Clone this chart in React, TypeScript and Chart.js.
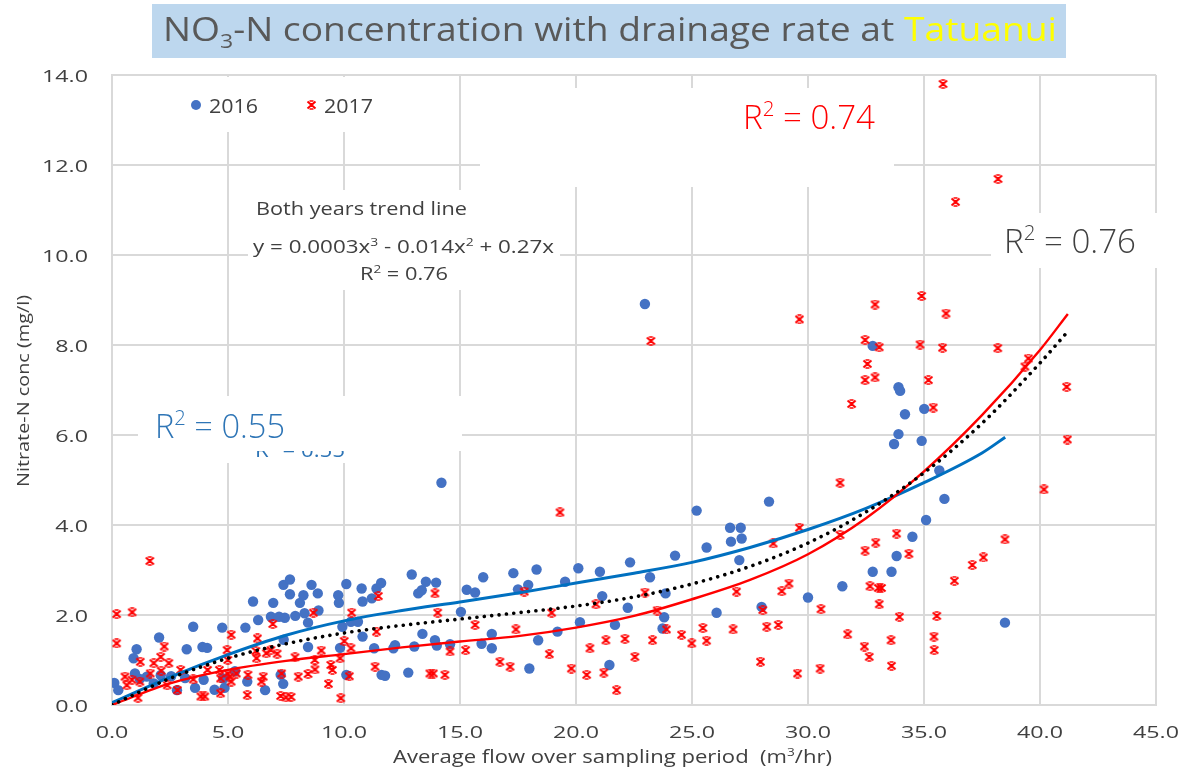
import React, { useEffect, useRef } from "react";
import { Chart, registerables } from "chart.js";
Chart.register(...registerables);

// ---------- DATA ----------
const xTickLabels = ["0.0", "5.0", "10.0", "15.0", "20.0", "25.0", "30.0", "35.0", "40.0", "45.0"];
const yTickLabels = ["0.0", "2.0", "4.0", "6.0", "8.0", "10.0", "12.0", "14.0"];

const flow2016 = [
  0.1, 0.27, 0.93, 1.06, 0.99, 1.2, 1.5, 2.03, 2.1, 1.8, 2.55, 2.8, 3.22, 3.5, 3.58, 3.15, 3.9, 4.1, 3.95, 4.42,
  4.75, 4.85, 4.8, 5.3, 5.75, 5.83, 6.08, 6.3, 6.6, 6.85, 6.95, 7.2, 7.39, 7.67, 7.67, 7.38, 7.27, 7.4, 7.45, 7.9,
  8.1, 8.25, 8.3, 8.45, 8.45, 8.6, 8.87, 8.9, 9.75, 9.78, 9.83, 9.93, 10.1, 10.1, 10.3, 10.6, 10.76, 10.8, 10.8, 11.2,
  11.3, 11.4, 11.6, 11.62, 11.77, 12.13, 12.2, 12.77, 12.92, 13.03, 13.2, 13.35, 13.38, 13.53, 13.92, 13.97, 14.0, 14.2, 14.57, 15.04,
  15.29, 15.65, 15.93, 16.0, 16.37, 16.37, 17.3, 17.5, 17.94, 17.99, 18.3, 18.37, 19.2, 19.53, 20.1, 20.17, 21.03, 21.13, 21.44, 21.68,
  22.23, 22.33, 22.97, 23.19, 23.73, 23.8, 23.86, 24.27, 25.2, 25.63, 26.06, 26.64, 26.68, 27.04, 27.1, 27.14, 28.0, 28.32, 30.0, 31.48,
  32.79, 32.79, 33.6, 33.71, 33.82, 33.9, 33.9, 33.97, 34.18, 34.5, 34.9, 35.01, 35.09, 35.66, 35.88, 38.49,
];
const nitrate2016 = [
  0.49, 0.33, 1.04, 1.24, 0.7, 0.58, 0.63, 1.5, 0.66, 0.48, 0.64, 0.33, 1.24, 1.74, 0.38, 0.6, 1.29, 1.27, 0.56, 0.34,
  1.72, 0.38, 0.59, 0.75, 1.72, 0.52, 2.3, 1.89, 0.33, 1.96, 2.27, 1.96, 2.67, 2.79, 2.46, 0.47, 0.67, 1.45, 1.94, 1.98,
  2.27, 2.44, 2.04, 1.83, 1.29, 2.67, 2.48, 2.1, 2.44, 2.27, 1.27, 1.74, 2.69, 0.67, 1.85, 1.85, 2.59, 2.3, 1.52, 2.37,
  1.26, 2.59, 2.71, 0.67, 0.65, 1.26, 1.33, 0.72, 2.9, 1.3, 2.48, 2.55, 1.58, 2.74, 1.44, 2.72, 1.32, 4.94, 1.35, 2.07,
  2.56, 2.5, 1.36, 2.84, 1.58, 1.26, 2.93, 2.57, 2.67, 0.81, 3.01, 1.44, 1.63, 2.74, 3.04, 1.84, 2.96, 2.42, 0.89, 1.78,
  2.16, 3.17, 8.91, 2.84, 1.7, 1.95, 2.48, 3.32, 4.32, 3.5, 2.05, 3.94, 3.63, 3.22, 3.94, 3.7, 2.18, 4.52, 2.39, 2.64,
  2.96, 7.98, 2.96, 5.8, 3.31, 6.02, 7.06, 6.98, 6.46, 3.74, 5.87, 6.58, 4.11, 5.21, 4.58, 1.83,
];

const flow2017 = [
  0.2, 0.87, 0.2, 1.63, 0.56, 0.64, 0.86, 1.2, 1.12, 1.22, 1.8, 2.1, 2.25, 2.12, 2.45, 1.65, 2.38, 2.82, 2.96, 3.5,
  3.83, 4.0, 4.12, 4.63, 4.68, 4.68, 4.96, 5.14, 4.99, 4.99, 5.07, 5.14, 5.36, 5.86, 5.83, 6.27, 6.23, 6.2,
  6.44, 6.52, 6.65, 6.85, 6.93, 7.12, 7.31, 7.27, 7.5, 7.72, 7.89, 8.03, 8.45, 8.68, 8.74, 8.75, 9.02, 9.33, 9.43, 9.5,
  9.83, 9.86, 10.01, 10.23, 10.3, 10.33, 11.34, 11.4, 11.48,
  13.7, 13.85, 13.92, 14.04, 14.35, 14.57, 15.24, 15.65, 16.72, 17.16, 17.41, 17.77, 18.85, 18.95, 19.31, 19.8,
  20.46, 20.6, 20.86, 21.2, 21.29, 21.75, 22.11, 22.54, 22.97, 23.23, 23.3, 23.5, 23.9, 24.55, 24.99, 25.47, 25.63, 26.77, 26.92, 27.95,
  28.05, 28.22, 28.5, 28.72, 28.87, 29.18, 29.55, 29.63, 29.63, 30.52, 30.56, 31.38, 31.38, 31.71, 31.88, 32.43, 32.46, 32.46, 32.46, 32.56,
  32.64, 32.67, 32.89, 32.89, 32.92, 33.03, 33.17, 33.07, 33.07, 33.58, 33.6, 33.82, 33.94, 34.35, 34.83, 34.9, 35.19, 35.4, 35.43, 35.44,
  35.55, 35.8, 35.82, 35.95, 36.31, 36.36, 37.08, 37.56, 38.18, 38.19, 38.49, 39.35, 39.5, 40.17, 41.15, 41.18,
];
const nitrate2017 = [
  2.02, 2.06, 1.37, 3.2, 0.63, 0.44, 0.56, 0.52, 0.16, 0.96, 0.93, 1.07, 1.3, 0.76, 0.93, 0.7, 0.44, 0.33, 0.78, 0.57,
  0.19, 0.19, 0.78, 0.78, 0.26, 0.59, 1.22, 1.56, 1.0, 0.7, 0.63, 0.52, 0.7, 0.67, 0.22, 1.48, 1.04, 1.2,
  0.52, 0.63, 1.15, 1.22, 1.8, 1.14, 0.7, 0.2, 0.17, 0.18, 1.06, 0.63, 0.69, 2.05, 1.0, 0.79, 1.21, 0.47, 0.89, 0.78,
  1.04, 0.15, 1.42, 0.64, 1.26, 2.05, 0.85, 1.63, 2.42,
  0.7, 0.7, 2.48, 2.05, 0.67, 1.19, 1.22, 1.78, 0.96, 0.85, 1.68, 2.52, 1.13, 2.05, 4.28, 0.81,
  0.67, 1.26, 2.24, 0.72, 1.44, 0.33, 1.47, 1.07, 2.5, 8.09, 1.44, 2.1, 1.68, 1.56, 1.37, 1.71, 1.43, 1.68, 2.52, 0.96,
  2.11, 1.74, 3.59, 1.78, 2.53, 2.7, 0.7, 3.94, 8.57, 0.81, 2.13, 4.94, 3.78, 1.57, 6.69, 1.3, 3.43, 7.22, 8.11, 7.58,
  1.07, 2.64, 7.28, 8.9, 3.61, 2.6, 2.6, 2.24, 7.95, 1.44, 0.87, 3.81, 1.96, 3.36, 8.01, 9.09, 7.22, 6.61, 1.52, 1.22,
  1.98, 7.94, 13.8, 8.7, 2.76, 11.18, 3.11, 3.28, 7.93, 11.69, 3.68, 7.52, 7.7, 4.79, 7.07, 5.9,
];

// trend lines
const trendFlow = [0, 2.5, 5, 7.5, 10, 12.5, 15, 17.5, 20, 22.5, 25, 27.5, 30, 32.5, 35, 37.5, 40, 41.2];
const trendBoth = [0, 0.59, 1.04, 1.36, 1.6, 1.77, 1.91, 2.05, 2.2, 2.4, 2.69, 3.08, 3.6, 4.29, 5.16, 6.26, 7.6, 8.3];
const trend2017 = [0, 0.48, 0.78, 0.98, 1.13, 1.28, 1.41, 1.53, 1.72, 1.98, 2.35, 2.78, 3.35, 4.15, 5.19, 6.44, 7.89, 8.69];
const trendFlow2016 = [0, 2.5, 5, 7.5, 10, 12.5, 15, 17.5, 20, 22.5, 25, 27.5, 30, 32.5, 35, 37.5, 38.5];
const trend2016 = [0.05, 0.62, 1.12, 1.55, 1.87, 2.1, 2.29, 2.49, 2.71, 2.93, 3.17, 3.5, 3.9, 4.37, 4.94, 5.6, 5.95];

// ---------- DRAWING HELPERS ----------
const W = 1181;
const H = 778;
const FONT = '"Open Sans", "Noto Sans", sans-serif';

type Run = { t: string; s?: "sup" | "sub"; c?: string };

function runsWidth(ctx: CanvasRenderingContext2D, runs: Run[], size: number, weight: string) {
  let w = 0;
  for (const r of runs) {
    const fs = r.s ? size * 0.62 : size;
    ctx.font = `${weight} ${fs}px ${FONT}`;
    w += ctx.measureText(r.t).width;
  }
  return w;
}

function drawRuns(
  ctx: CanvasRenderingContext2D,
  runs: Run[],
  x: number,
  y: number,
  size: number,
  color: string,
  opts: { width?: number; sx?: number; align?: "left" | "center" | "right"; weight?: string } = {}
) {
  const weight = opts.weight || "400";
  const natural = runsWidth(ctx, runs, size, weight);
  const sx = opts.width ? opts.width / natural : opts.sx || 1;
  const total = natural * sx;
  const align = opts.align || "left";
  const x0 = align === "left" ? x : align === "center" ? x - total / 2 : x - total;
  ctx.save();
  ctx.translate(x0, y);
  ctx.scale(sx, 1);
  ctx.textAlign = "left";
  ctx.textBaseline = "alphabetic";
  let cx = 0;
  for (const r of runs) {
    const fs = r.s ? size * 0.62 : size;
    ctx.font = `${weight} ${fs}px ${FONT}`;
    ctx.fillStyle = r.c || color;
    const dy = r.s === "sup" ? -size * 0.38 : r.s === "sub" ? size * 0.22 : 0;
    ctx.fillText(r.t, cx, dy);
    cx += ctx.measureText(r.t).width;
  }
  ctx.restore();
}

function makeStar(): HTMLCanvasElement {
  const c = document.createElement("canvas");
  c.width = 11;
  c.height = 10;
  const g = c.getContext("2d")!;
  g.strokeStyle = "#ff0000";
  g.lineWidth = 2;
  g.lineCap = "butt";
  g.beginPath();
  g.moveTo(1.5, 1.5);
  g.lineTo(9.5, 8.5);
  g.moveTo(9.5, 1.5);
  g.lineTo(1.5, 8.5);
  g.stroke();
  g.lineWidth = 1.6;
  g.beginPath();
  g.moveTo(3.5, 1);
  g.lineTo(7.5, 1);
  g.moveTo(3.5, 9);
  g.lineTo(7.5, 9);
  g.moveTo(5.5, 3);
  g.lineTo(5.5, 7);
  g.stroke();
  return c;
}

const TEXT = "#404040";
const TICK = "#404040";
const BLUE_TXT = "#2e75b6";

const starImg = makeStar();

const decor = {
  id: "decor",
  beforeDatasetsDraw(chart: any) {
    const ctx: CanvasRenderingContext2D = chart.ctx;
    ctx.save();
    ctx.fillStyle = "#ffffff";
    // legend box
    ctx.fillRect(176, 77, 214, 55);
    // R2 0.74 box
    ctx.fillRect(480, 88, 414, 99);
    // both years box
    ctx.fillRect(248, 190, 312, 100);
    // R2 0.76 box
    ctx.fillRect(991, 213, 180, 55);
    // hidden blue label box + text
    ctx.fillRect(225, 440, 230, 23);
    drawRuns(ctx, [{ t: "R" }, { t: "2", s: "sup" }, { t: " = 0.55" }], 255, 457, 20, BLUE_TXT, { width: 90 });
    ctx.fillStyle = "#ffffff";
    ctx.fillRect(138, 396, 324, 55);
    ctx.restore();
  },
  afterDraw(chart: any) {
    const ctx: CanvasRenderingContext2D = chart.ctx;
    ctx.save();
    // title
    ctx.fillStyle = "#bdd7ee";
    ctx.fillRect(152, 4, 914, 54);
    drawRuns(
      ctx,
      [
        { t: "NO" },
        { t: "3", s: "sub" },
        { t: "-N concentration with drainage rate at " },
        { t: "Tatuanui", c: "#ffff00" },
      ],
      163,
      41,
      32,
      "#595959",
      { width: 894 }
    );

    // tick labels
    ctx.font = `400 17px ${FONT}`;
    const tickSx = 46 / ctx.measureText("10.0").width;
    const xs = chart.scales.x;
    xs.ticks.forEach((_: any, i: number) => {
      const px = xs.getPixelForTick(i);
      drawRuns(ctx, [{ t: xTickLabels[i] }], px, 738, 17, TICK, { sx: tickSx, align: "center" });
    });
    const ys = chart.scales.y;
    ys.ticks.forEach((_: any, i: number) => {
      const py = ys.getPixelForTick(i);
      drawRuns(ctx, [{ t: yTickLabels[i] }], 88, py + 6.5, 17, TICK, { sx: tickSx, align: "right" });
    });

    // axis titles
    drawRuns(
      ctx,
      [{ t: "Average flow over sampling period  (m" }, { t: "3", s: "sup" }, { t: "/hr)" }],
      393,
      763,
      18,
      TEXT,
      { width: 439 }
    );
    ctx.save();
    ctx.translate(29, 391);
    ctx.rotate(-Math.PI / 2);
    drawRuns(ctx, [{ t: "Nitrate-N conc (mg/l)" }], 0, 0, 16, TEXT, { width: 192, align: "center" });
    ctx.restore();

    // legend
    ctx.fillStyle = "#4472c4";
    ctx.beginPath();
    ctx.arc(196, 105, 5, 0, Math.PI * 2);
    ctx.fill();
    drawRuns(ctx, [{ t: "2016" }], 209, 113, 20, TEXT, { width: 49 });
    ctx.drawImage(starImg, 306, 100);
    drawRuns(ctx, [{ t: "2017" }], 324, 113, 20, TEXT, { width: 49 });

    // annotations
    drawRuns(ctx, [{ t: "Both years trend line" }], 256, 215, 18, TEXT, { width: 211 });
    drawRuns(
      ctx,
      [
        { t: "y = 0.0003x" },
        { t: "3", s: "sup" },
        { t: " - 0.014x" },
        { t: "2", s: "sup" },
        { t: " + 0.27x" },
      ],
      253,
      253,
      18,
      TEXT,
      { width: 301 }
    );
    drawRuns(ctx, [{ t: "R" }, { t: "2", s: "sup" }, { t: " = 0.76" }], 360, 280, 18, TEXT, { width: 88 });

    drawRuns(ctx, [{ t: "R" }, { t: "2", s: "sup" }, { t: " = 0.74" }], 743, 129, 33, "#ff0000", { width: 132, weight: "300" });
    drawRuns(ctx, [{ t: "R" }, { t: "2", s: "sup" }, { t: " = 0.76" }], 1004, 253, 33, TEXT, { width: 132, weight: "300" });
    drawRuns(ctx, [{ t: "R" }, { t: "2", s: "sup" }, { t: " = 0.55" }], 155, 438, 33, BLUE_TXT, { width: 130, weight: "300" });
    ctx.restore();
  },
};

export default function App() {
  const ref = useRef<HTMLCanvasElement | null>(null);
  useEffect(() => {
    const canvas = ref.current!;
    const pts = (xs: number[], ys: number[]) => xs.map((x, i) => ({ x, y: ys[i] }));
    const chart = new Chart(canvas, {
      type: "scatter",
      data: {
        datasets: [
          {
            label: "Both years trend line",
            data: pts(trendFlow, trendBoth),
            showLine: true,
            borderColor: "#000000",
            borderWidth: 3.6,
            borderDash: [0.01, 7.4],
            borderCapStyle: "round",
            pointRadius: 0,
            cubicInterpolationMode: "monotone",
            order: 0,
          } as any,
          {
            label: "2017 trend",
            data: pts(trendFlow, trend2017),
            showLine: true,
            borderColor: "#ff0000",
            borderWidth: 2.4,
            pointRadius: 0,
            cubicInterpolationMode: "monotone",
            order: 1,
          } as any,
          {
            label: "2016 trend",
            data: pts(trendFlow2016, trend2016),
            showLine: true,
            borderColor: "#0070c0",
            borderWidth: 3,
            pointRadius: 0,
            cubicInterpolationMode: "monotone",
            order: 2,
          } as any,
          {
            label: "2017",
            data: pts(flow2017, nitrate2017),
            pointStyle: starImg,
            pointRadius: 5,
            order: 3,
          } as any,
          {
            label: "2016",
            data: pts(flow2016, nitrate2016),
            pointStyle: "circle",
            pointRadius: 5.2,
            backgroundColor: "#4472c4",
            borderColor: "#4472c4",
            borderWidth: 0,
            order: 4,
          } as any,
        ],
      },
      options: {
        responsive: false,
        animation: false,
        devicePixelRatio: 1,
        layout: { padding: { left: 0, top: 75, right: 25, bottom: 0 } },
        plugins: { legend: { display: false }, tooltip: { enabled: false } },
        scales: {
          x: {
            type: "linear",
            min: 0,
            max: 45,
            ticks: { stepSize: 5, display: false },
            grid: { color: "#d9d9d9", lineWidth: 2, drawTicks: false },
            border: { display: true, color: "#d9d9d9", width: 2 },
            afterFit: (s: any) => {
              s.height = 73;
            },
          },
          y: {
            type: "linear",
            min: 0,
            max: 14,
            ticks: { stepSize: 2, display: false },
            grid: { color: "#d9d9d9", lineWidth: 2, drawTicks: false },
            border: { display: true, color: "#d9d9d9", width: 2 },
            afterFit: (s: any) => {
              s.width = 112;
            },
          },
        },
      } as any,
      plugins: [decor],
    });
    return () => chart.destroy();
  }, []);
  return (
    <div style={{ position: "fixed", left: 0, top: 0, width: W, height: H, background: "#ffffff" }}>
      <canvas ref={ref} width={W} height={H} style={{ width: W, height: H, display: "block" }} />
    </div>
  );
}
